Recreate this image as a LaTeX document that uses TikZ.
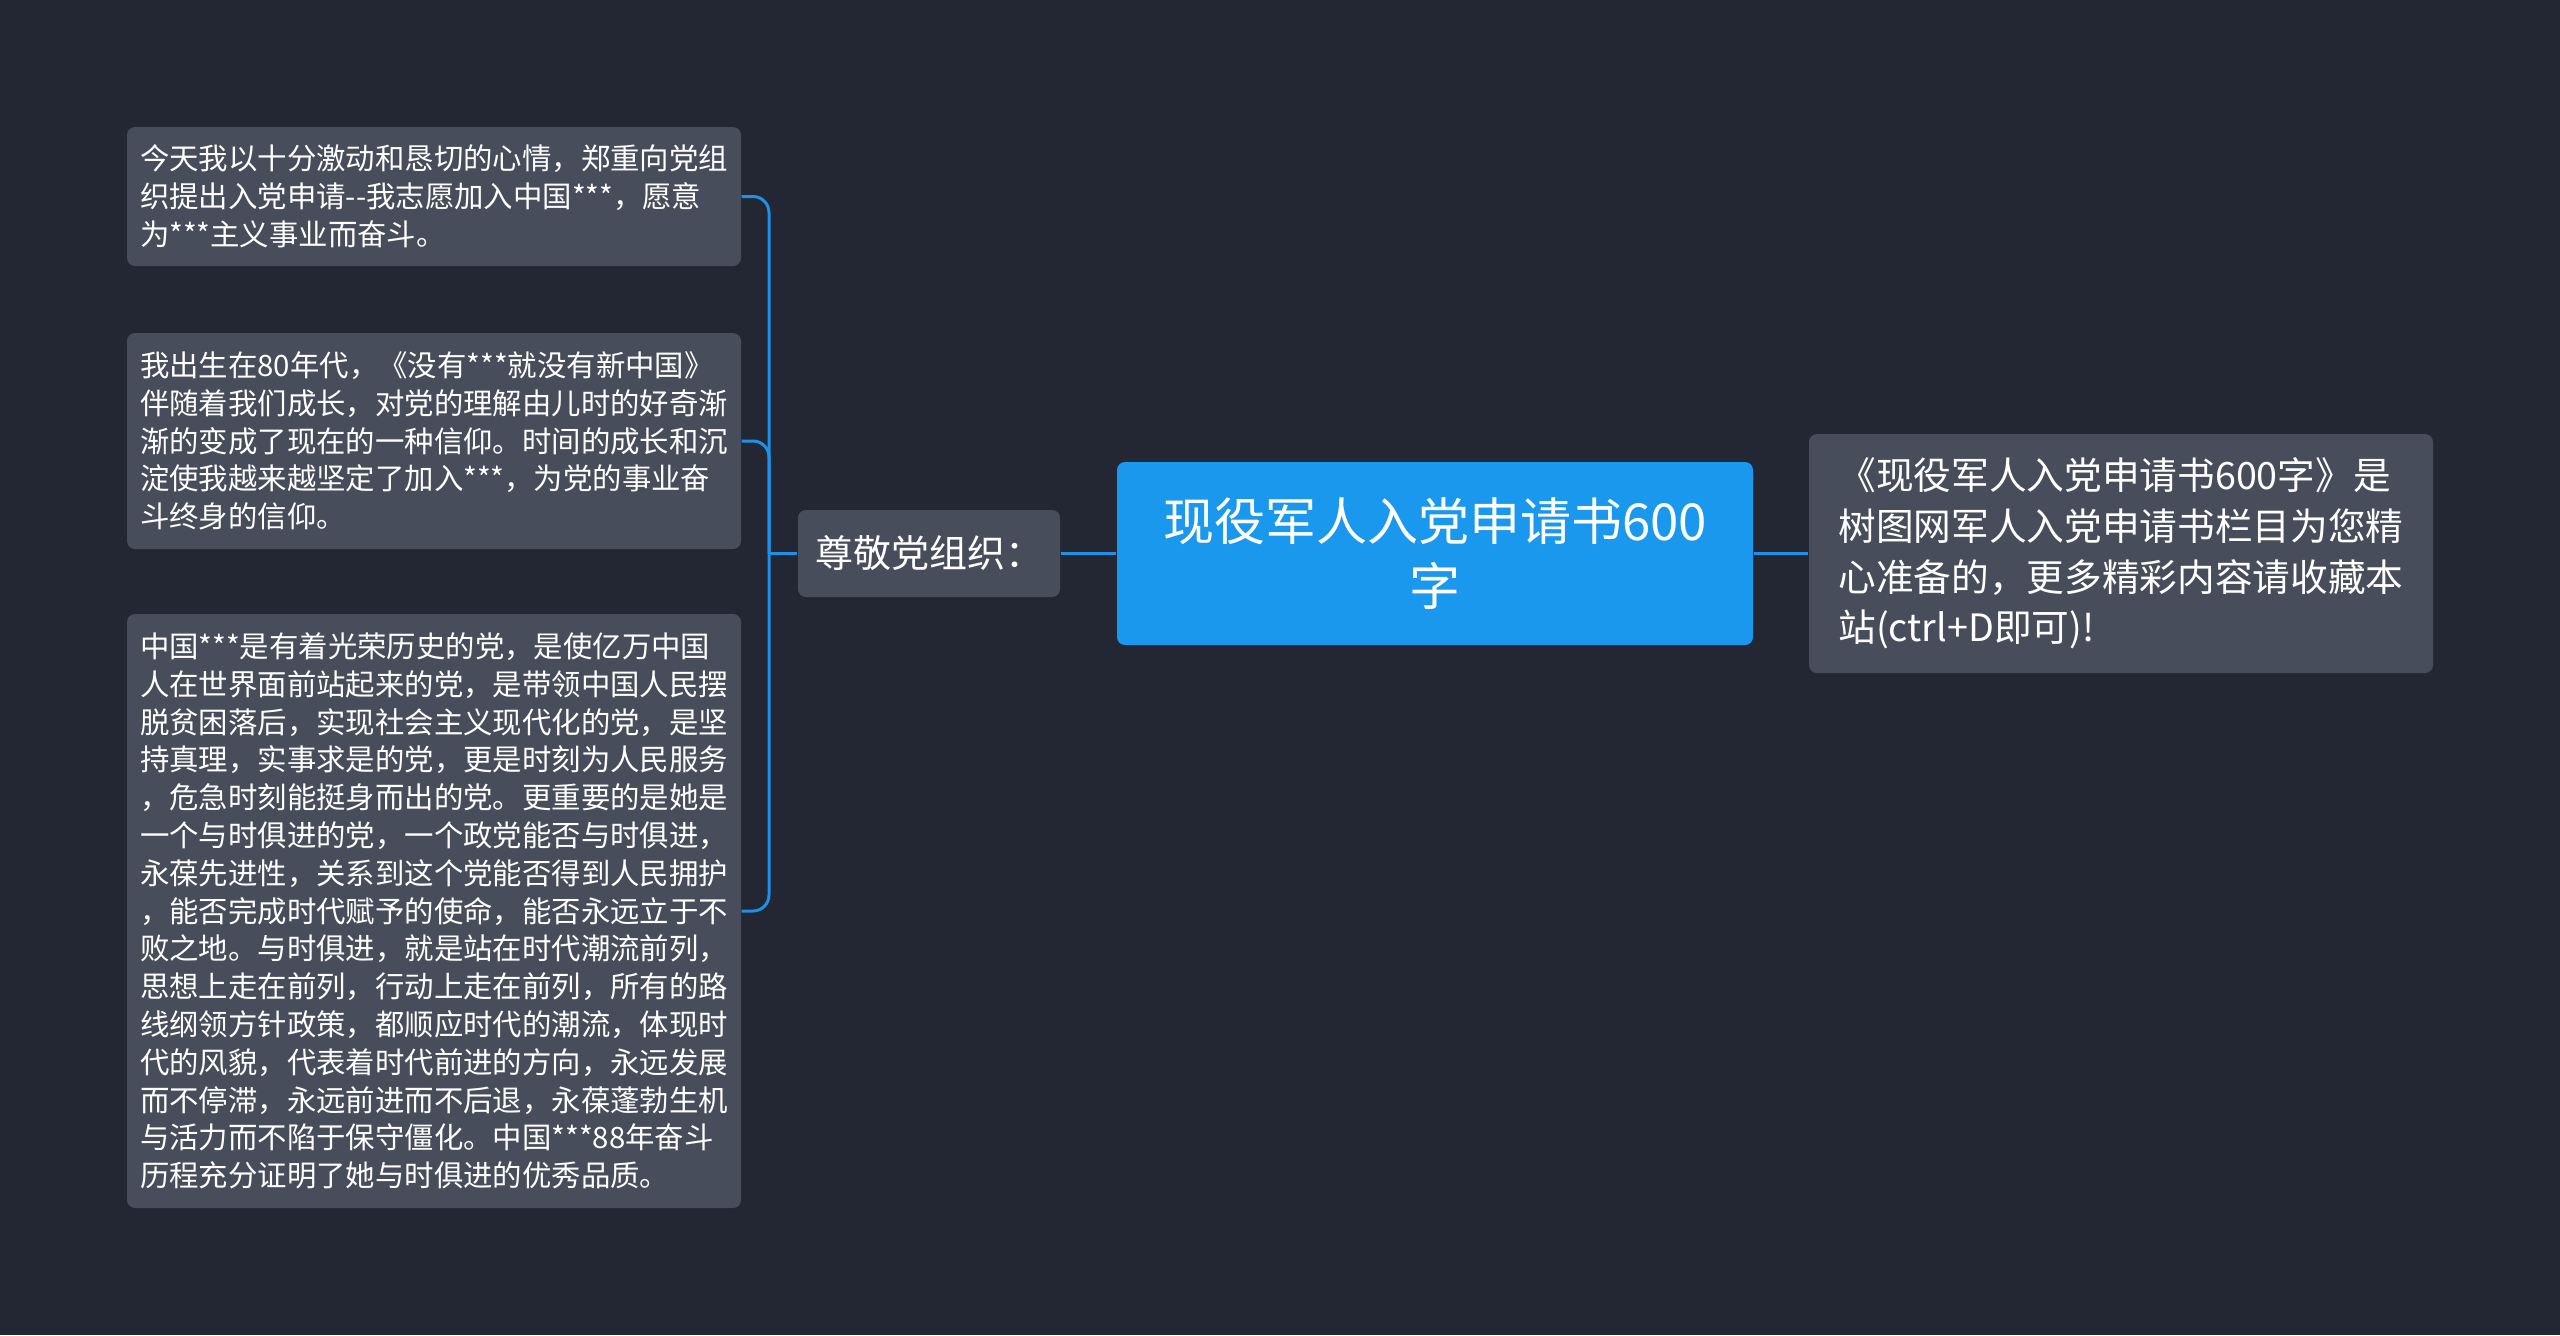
\documentclass[tikz,border=0pt]{standalone}
\usepackage{fontspec}
\setmainfont{Noto Sans CJK SC}
\definecolor{bg}{HTML}{232733}
\definecolor{box}{HTML}{474D5B}
\definecolor{topic}{HTML}{1A98EE}
\definecolor{link}{HTML}{1E90E6}
\begin{document}
\begin{tikzpicture}[x=0.3pt,y=-0.3pt,
leaf/.style={fill=box, rounded corners=2.4pt, text=white, align=left, inner sep=0pt, minimum width=184.2pt, font=\fontsize{8.82pt}{11.34pt}\selectfont},
sub/.style={fill=box, rounded corners=2.4pt, text=white, align=left, inner sep=0pt},
root/.style={fill=topic, rounded corners=2.4pt, text=white, align=center, inner sep=0pt, minimum width=190.8pt, minimum height=54.9pt, font=\fontsize{15.3pt}{19.5pt}\selectfont},
link/.style={draw=link, line width=0.9pt}]
\fill[bg] (0,0) rectangle (2560,1335);
\node(t) at (1435,553.5) [root]{现役军人入党申请书600\\字};
\node(a) at (929,553.5) [sub, minimum width=78.6pt, minimum height=26.1pt, font=\fontsize{11.4pt}{14pt}\selectfont]{尊敬党组织：};
\node(r) at (2121,553.5) [sub, minimum width=187.2pt, minimum height=71.7pt, font=\fontsize{11.3pt}{15.2pt}\selectfont]{《现役军人入党申请书600字》是\\树图网军人入党申请书栏目为您精\\心准备的，更多精彩内容请收藏本\\站(ctrl+D即可)!};
\node(a1) at (434,196.5) [leaf, minimum height=41.7pt]{今天我以十分激动和恳切的心情，郑重向党组\\织提出入党申请-{}-我志愿加入中国***，愿意\\为***主义事业而奋斗。};
\node(a2) at (434,441) [leaf, minimum height=64.8pt]{我出生在80年代，《没有***就没有新中国》\\伴随着我们成长，对党的理解由儿时的好奇渐\\渐的变成了现在的一种信仰。时间的成长和沉\\淀使我越来越坚定了加入***，为党的事业奋\\斗终身的信仰。};
\node(a3) at (434,911) [leaf, minimum height=178.2pt]{中国***是有着光荣历史的党，是使亿万中国\\人在世界面前站起来的党，是带领中国人民摆\\脱贫困落后，实现社会主义现代化的党，是坚\\持真理，实事求是的党，更是时刻为人民服务\\，危急时刻能挺身而出的党。更重要的是她是\\一个与时俱进的党，一个政党能否与时俱进，\\永葆先进性，关系到这个党能否得到人民拥护\\，能否完成时代赋予的使命，能否永远立于不\\败之地。与时俱进，就是站在时代潮流前列，\\思想上走在前列，行动上走在前列，所有的路\\线纲领方针政策，都顺应时代的潮流，体现时\\代的风貌，代表着时代前进的方向，永远发展\\而不停滞，永远前进而不后退，永葆蓬勃生机\\与活力而不陷于保守僵化。中国***88年奋斗\\历程充分证明了她与时俱进的优秀品质。};
\coordinate(j) at (769,553.5);
\draw[link] (t.east) -- (r.west);
\draw[link] (t.west) -- (a.east);
\draw[link] (a.west) -- (j);
\draw[link, rounded corners=4.8pt] (j) |- (a1.east);
\draw[link, rounded corners=4.8pt] (j) |- (a2.east);
\draw[link, rounded corners=4.8pt] (j) |- (a3.east);
\end{tikzpicture}
\end{document}
